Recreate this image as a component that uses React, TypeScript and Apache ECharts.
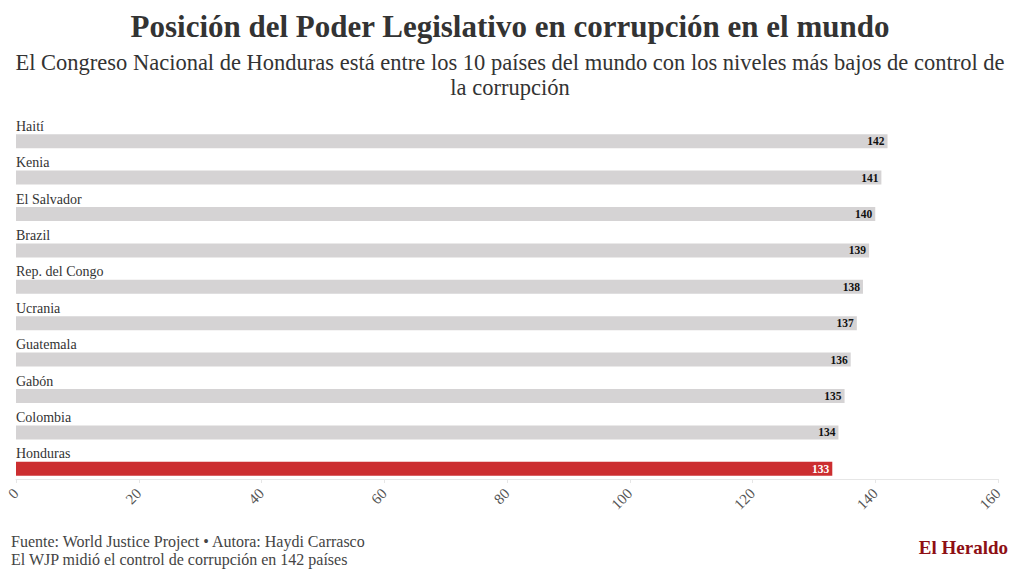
import React, { useEffect, useRef } from "react";
import * as echarts from "echarts";

const countries = ["Haití", "Kenia", "El Salvador", "Brazil", "Rep. del Congo", "Ucrania", "Guatemala", "Gabón", "Colombia", "Honduras"];
const positions = [142, 141, 140, 139, 138, 137, 136, 135, 134, 133];
const highlight = "Honduras";

const titleText = "Posición del Poder Legislativo en corrupción en el mundo";
const subtitleText = "El Congreso Nacional de Honduras está entre los 10 países del mundo con los niveles más bajos de control de\nla corrupción";
const footer1 = "Fuente: World Justice Project • Autora: Haydi Carrasco";
const footer2 = "El WJP midió el control de corrupción en 142 países";
const brand = "El Heraldo";

const FONT = "'Liberation Serif', 'DejaVu Serif', serif";

export default function App() {
  const ref = useRef<HTMLDivElement>(null);
  useEffect(() => {
    if (!ref.current) return;
    const chart = echarts.init(ref.current, null, { renderer: "svg" });
    chart.setOption({
      animation: false,
      backgroundColor: "#ffffff",
      textStyle: { fontFamily: FONT },
      title: [
        {
          text: titleText,
          left: "center",
          top: 6,
          textStyle: { fontFamily: FONT, fontSize: 31, fontWeight: "bold", color: "#333333" },
        },
      ],
      grid: { left: 16, right: 22, top: 123, bottom: 92, containLabel: false },
      xAxis: {
        type: "value",
        min: 0,
        max: 160,
        interval: 20,
        offset: -8,
        axisLine: { show: true, lineStyle: { color: "#e6e6e6" } },
        axisTick: { show: true, length: 4, lineStyle: { color: "#e6e6e6" } },
        splitLine: { show: false },
        axisLabel: { rotate: 45, fontSize: 15, color: "#555555", fontFamily: FONT, margin: 12 },
      },
      yAxis: {
        type: "category",
        data: countries,
        inverse: true,
        z: 10,
        axisLine: { show: false },
        axisTick: { show: false },
        axisLabel: {
          inside: true,
          margin: 0,
          align: "left",
          formatter: (v: string) => `{v|${v}}\n{s| }`,
          rich: {
            v: { fontSize: 14, color: "#333333", fontFamily: FONT, lineHeight: 14 },
            s: { fontSize: 10, lineHeight: 30 },
          },
        },
      },
      series: [
        {
          type: "bar",
          barWidth: 14,
          data: positions.map((v, i) => ({
            value: v,
            itemStyle: { color: countries[i] === highlight ? "#cc2e30" : "#d5d3d4" },
            label: { color: countries[i] === highlight ? "#ffffff" : "#111111" },
          })),
          label: {
            show: true,
            position: "insideRight",
            distance: 3,
            fontSize: 11.5,
            fontWeight: "bold",
            fontFamily: FONT,
          },
        },
      ],
      graphic: [
        {
          type: "text",
          x: 510,
          y: 50,
          style: {
            text: subtitleText,
            fontSize: 22.5,
            lineHeight: 25,
            fill: "#333333",
            fontFamily: FONT,
            align: "center",
            verticalAlign: "top",
          },
        },
        { type: "text", left: 11, top: 533, style: { text: footer1, fontSize: 16, fill: "#444444", fontFamily: FONT } },
        { type: "text", left: 11, top: 551, style: { text: footer2, fontSize: 16, fill: "#444444", fontFamily: FONT } },
        { type: "text", right: 12, top: 538, style: { text: brand, fontSize: 19, fontWeight: "bold", fill: "#8e0f14", fontFamily: FONT } },
      ],
    });
    return () => chart.dispose();
  }, []);
  return <div ref={ref} style={{ position: "fixed", left: 0, top: 0, width: 1020, height: 579 }} />;
}
